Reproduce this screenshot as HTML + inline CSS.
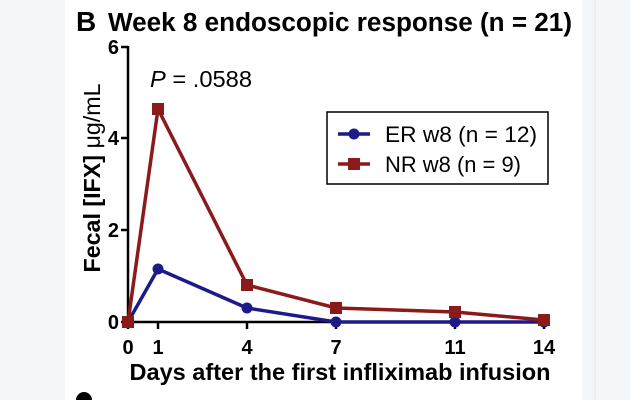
<!DOCTYPE html>
<html><head><style>
html,body{margin:0;padding:0;background:#f3f7fa;}
</style></head><body>
<svg width="630" height="400" xmlns="http://www.w3.org/2000/svg" style="display:block">
<rect x="0" y="0" width="630" height="400" fill="#f3f7fa"/>
<rect x="65" y="0" width="517" height="400" fill="#ffffff"/>
<line x1="595" y1="0" x2="595" y2="400" stroke="#e3e8ee" stroke-width="1"/>
<g font-family="Liberation Sans, sans-serif">
<text x="76" y="31" font-size="28" font-weight="bold">B</text>
<text x="108" y="31" font-size="25.5" font-weight="bold" textLength="464" lengthAdjust="spacingAndGlyphs">Week 8 endoscopic response (n = 21)</text>
<line x1="128" y1="46" x2="128" y2="323" stroke="#000" stroke-width="2.5"/>
<line x1="127" y1="322" x2="545" y2="322" stroke="#000" stroke-width="2.5"/>
<g stroke="#000" stroke-width="2.5">
<line x1="121" y1="47" x2="128" y2="47"/><line x1="121" y1="138" x2="128" y2="138"/>
<line x1="121" y1="230" x2="128" y2="230"/><line x1="121" y1="322" x2="128" y2="322"/>
<line x1="128" y1="322" x2="128" y2="329"/><line x1="158" y1="322" x2="158" y2="329"/>
<line x1="247" y1="322" x2="247" y2="329"/><line x1="336" y1="322" x2="336" y2="329"/>
<line x1="455" y1="322" x2="455" y2="329"/><line x1="544" y1="322" x2="544" y2="329"/>
</g>
<g font-size="20" font-weight="bold" text-anchor="end">
<text x="119" y="54">6</text><text x="119" y="145">4</text><text x="119" y="237">2</text><text x="119" y="329">0</text>
</g>
<g font-size="20" font-weight="bold" text-anchor="middle">
<text x="128" y="354">0</text><text x="158" y="354">1</text><text x="247" y="354">4</text>
<text x="336" y="354">7</text><text x="455" y="354">11</text><text x="544" y="354">14</text>
</g>
<text x="340" y="380" font-size="23" font-weight="bold" text-anchor="middle" textLength="421" lengthAdjust="spacingAndGlyphs">Days after the first infliximab infusion</text>
<text transform="translate(100,178) rotate(-90)" font-size="23" font-weight="bold" text-anchor="middle" textLength="189" lengthAdjust="spacingAndGlyphs">Fecal [IFX] <tspan font-weight="normal">μg/mL</tspan></text>
<text x="150" y="87" font-size="23" textLength="102" lengthAdjust="spacingAndGlyphs"><tspan font-style="italic">P</tspan> = .0588</text>
<polyline points="128,322 158,269 247,308 336,322 455,322 544,322" fill="none" stroke="#1f1a8a" stroke-width="3.5"/>
<g fill="#1f1a8a">
<circle cx="128" cy="322" r="5.5"/><circle cx="158" cy="269" r="5.5"/><circle cx="247" cy="308" r="5.5"/>
<circle cx="336" cy="322" r="5.5"/><circle cx="455" cy="322" r="5.5"/><circle cx="544" cy="322" r="5.5"/>
</g>
<polyline points="128,322 158,109 247,285 336,308 455,312 544,320" fill="none" stroke="#8b1a1a" stroke-width="3.5"/>
<g fill="#8b1a1a">
<rect x="122" y="316" width="12" height="12"/><rect x="152" y="103" width="12" height="12"/>
<rect x="241" y="279" width="12" height="12"/><rect x="330" y="302" width="12" height="12"/>
<rect x="449" y="306" width="12" height="12"/><rect x="538" y="314" width="12" height="12"/>
</g>
<rect x="327" y="112" width="221" height="72" fill="#fff" stroke="#000" stroke-width="1.5"/>
<line x1="338" y1="134" x2="370" y2="134" stroke="#1f1a8a" stroke-width="3.5"/>
<circle cx="354" cy="134" r="5.5" fill="#1f1a8a"/>
<text x="385" y="142" font-size="22" textLength="152" lengthAdjust="spacingAndGlyphs">ER w8 (n = 12)</text>
<line x1="338" y1="164" x2="370" y2="164" stroke="#8b1a1a" stroke-width="3.5"/>
<rect x="348" y="158" width="12" height="12" fill="#8b1a1a"/>
<text x="385" y="172" font-size="22" textLength="136" lengthAdjust="spacingAndGlyphs">NR w8 (n = 9)</text>
<circle cx="84" cy="400" r="8" fill="#000"/>
</g>
</svg>
</body></html>
